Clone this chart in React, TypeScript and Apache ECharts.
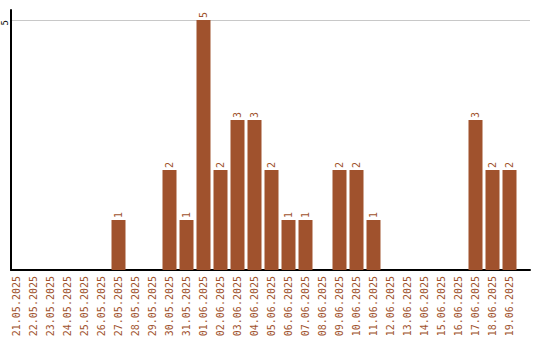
import React, { useEffect, useRef } from "react";
import * as echarts from "echarts";

const categories = [
  "21.05.2025", "22.05.2025", "23.05.2025", "24.05.2025", "25.05.2025",
  "26.05.2025", "27.05.2025", "28.05.2025", "29.05.2025", "30.05.2025",
  "31.05.2025", "01.06.2025", "02.06.2025", "03.06.2025", "04.06.2025",
  "05.06.2025", "06.06.2025", "07.06.2025", "08.06.2025", "09.06.2025",
  "10.06.2025", "11.06.2025", "12.06.2025", "13.06.2025", "14.06.2025",
  "15.06.2025", "16.06.2025", "17.06.2025", "18.06.2025", "19.06.2025",
];
const values = [0, 0, 0, 0, 0, 0, 1, 0, 0, 2, 1, 5, 2, 3, 3, 2, 1, 1, 0, 2, 2, 1, 0, 0, 0, 0, 0, 3, 2, 2];
const yTickLabels = [5];

const BROWN = "#A0522D";
const FONT = "DejaVu Sans Mono";

export default function App() {
  const ref = useRef<HTMLDivElement>(null);
  useEffect(() => {
    if (!ref.current) return;
    const chart = echarts.init(ref.current, null, { renderer: "svg" });
    chart.setOption({
      animation: false,
      grid: [
        { left: 11, right: 10, top: 10, bottom: 70, containLabel: false },
        { left: 8, right: 22, top: 10, bottom: 70, containLabel: false },
      ],
      xAxis: [
        {
          gridIndex: 0,
          type: "value",
          min: 0,
          max: 1,
          axisLine: { show: true, lineStyle: { color: "#000", width: 2 } },
          axisTick: { show: false },
          axisLabel: { show: false },
          splitLine: { show: false },
        },
        {
          gridIndex: 1,
          type: "category",
          data: categories,
          axisLine: { show: false },
          axisTick: { show: false },
          axisLabel: {
            rotate: 90,
            interval: 0,
            color: BROWN,
            fontFamily: FONT,
            fontSize: 10,
            margin: 6,
          },
        },
      ],
      yAxis: [
        {
          gridIndex: 0,
          type: "value",
          min: 0,
          max: 5.2,
          interval: 5,
          axisLine: { show: true, lineStyle: { color: "#000", width: 2 } },
          axisTick: { show: false },
          splitLine: {
            show: true,
            showMinLine: false,
            showMaxLine: false,
            lineStyle: { color: "#c8c8c8", width: 1 },
          },
          axisLabel: {
            rotate: 90,
            margin: 6,
            align: "right",
            verticalAlign: "middle",
            color: "#000",
            fontFamily: FONT,
            fontSize: 9,
            formatter: (v: number) => (yTickLabels.includes(v) ? String(v) : ""),
          },
        },
        {
          gridIndex: 1,
          type: "value",
          min: 0,
          max: 5.2,
          show: false,
        },
      ],
      series: [
        {
          type: "bar",
          xAxisIndex: 1,
          yAxisIndex: 1,
          data: values,
          barWidth: 14,
          itemStyle: { color: BROWN },
          label: {
            show: true,
            position: "top",
            rotate: 90,
            align: "left",
            verticalAlign: "middle",
            distance: 2,
            color: BROWN,
            fontFamily: FONT,
            fontSize: 10,
            formatter: (p: any) => (p.value ? String(p.value) : ""),
          },
        },
      ],
    });
    return () => chart.dispose();
  }, []);
  return (
    <div
      ref={ref}
      style={{ position: "fixed", left: 0, top: 0, width: 540, height: 340, background: "#fff" }}
    />
  );
}
